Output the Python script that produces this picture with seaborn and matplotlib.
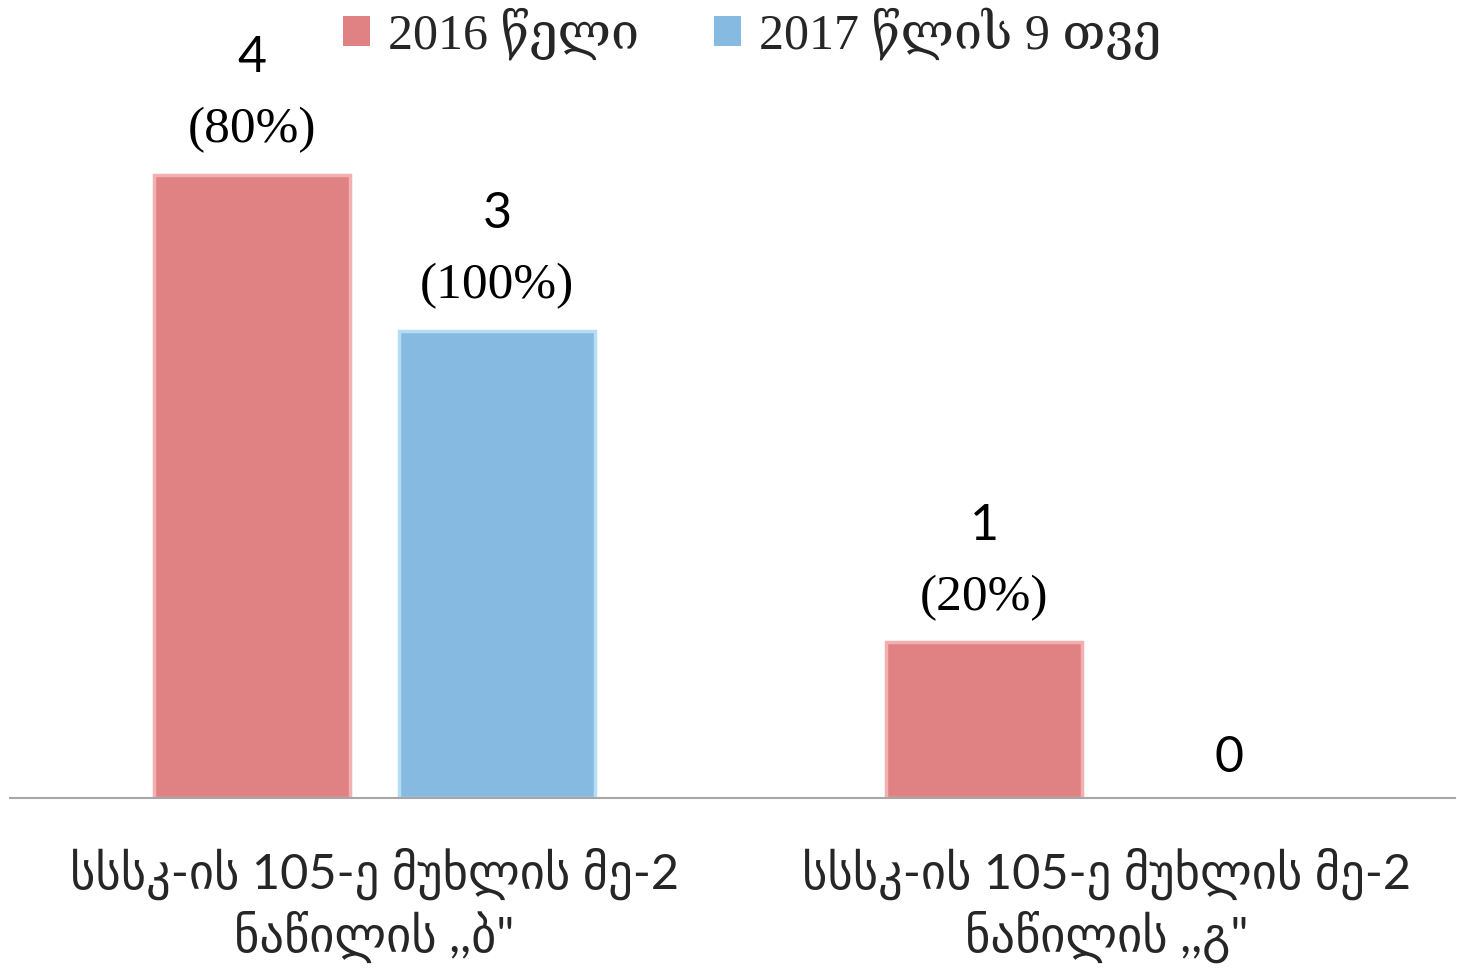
import seaborn as sns
import matplotlib.pyplot as plt
import pandas as pd

# chart data
categories = ['სსსკ-ის 105-ე მუხლის მე-2\nნაწილის ,,ბ"', 'სსსკ-ის 105-ე მუხლის მე-2\nნაწილის ,,გ"']
series = ['2016 წელი', '2017 წლის 9 თვე']
values_2016 = [4, 1]
values_2017 = [3, 0]
pct_2016 = ['80%', '20%']
pct_2017 = ['100%', '']

colors = ['#E08283', '#86BAE0']
edge_colors = ['#F2B0B0', '#B5DDF5']

df = pd.DataFrame({
    'category': categories * 2,
    'series': [series[0]] * 2 + [series[1]] * 2,
    'value': values_2016 + values_2017,
})

sns.set_theme(style='white')
plt.rcParams['font.family'] = ['Lato', 'DejaVu Sans']

fig = plt.figure(figsize=(14.57, 9.72), dpi=100)
ax = fig.add_axes([10 / 1457, (972 - 798) / 972, 1445 / 1457, 798 / 972])

sns.barplot(data=df, x='category', y='value', hue='series', order=categories,
            hue_order=series, palette=colors, width=0.67, gap=0.2,
            saturation=1, linewidth=0, ax=ax)

ax.set_xlim(-0.498, 1.476)
ax.set_ylim(0, 798 / 155.8)

# light bevel-like edges (skip empty bars)
for container, ec in zip(ax.containers, edge_colors):
    for bar in container:
        if bar.get_height() > 0:
            bar.set_edgecolor(ec)
            bar.set_linewidth(2.5)

# value labels: count on top, share in brackets below it
pcts = [pct_2016, pct_2017]
for container, pct in zip(ax.containers, pcts):
    for bar, p in zip(container, pct):
        x = bar.get_x() + bar.get_width() / 2
        h = bar.get_height()
        if p:
            ax.annotate(f'({p})', (x, h), xytext=(0, 32), textcoords='offset points',
                        ha='center', va='center', fontsize=37,
                        family=['Liberation Serif', 'DejaVu Serif'], color='black')
            ax.annotate(str(int(h)), (x, h), xytext=(0, 84), textcoords='offset points',
                        ha='center', va='center', fontsize=36, color='black')
        else:
            ax.annotate(str(int(h)), (x, h), xytext=(0, 29), textcoords='offset points',
                        ha='center', va='center', fontsize=36, color='black')

for s in ['top', 'left', 'right']:
    ax.spines[s].set_visible(False)
ax.spines['bottom'].set_color('#A6A6A6')
ax.spines['bottom'].set_linewidth(1.5)
ax.set_yticks([])
ax.set_xlabel('')
ax.set_ylabel('')
ax.tick_params(axis='x', length=0, pad=36, labelsize=35)
for t in ax.get_xticklabels():
    t.set_linespacing(1.25)

ax.legend(loc='upper center', bbox_to_anchor=(752 / 1457, 1.013), bbox_transform=fig.transFigure,
          ncol=2, frameon=False, handlelength=0.55, handleheight=0.55, handletextpad=0.35,
          columnspacing=1.5, borderaxespad=0.0,
          prop={'family': ['Liberation Serif', 'DejaVu Serif', 'DejaVu Sans'], 'size': 36})

fig.savefig('out.png', dpi=100)
